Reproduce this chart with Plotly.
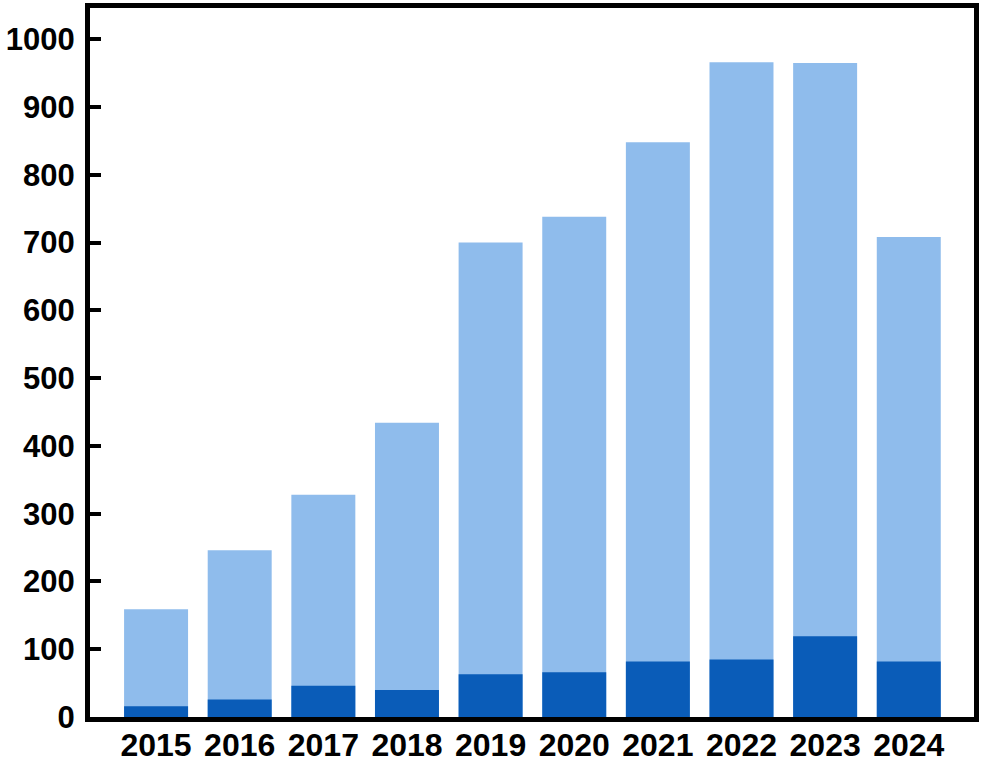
import plotly.graph_objects as go

years = ["2015", "2016", "2017", "2018", "2019", "2020", "2021", "2022", "2023", "2024"]
total = [159, 246, 328, 434, 700, 738, 848, 966, 965, 708]
subset = [16, 26, 46, 40, 63, 66, 82, 85, 119, 82]

fig = go.Figure()
fig.add_trace(go.Bar(x=years, y=total, marker_color="#8FBCEC", marker_line_width=0, width=0.765))
fig.add_trace(go.Bar(x=years, y=subset, marker_color="#0A5CB8", marker_line_width=0, width=0.765))

fig.update_layout(
    barmode="overlay",
    showlegend=False,
    width=982, height=763,
    margin=dict(l=90, r=8, t=8, b=46),
    plot_bgcolor="white", paper_bgcolor="white",
    font=dict(family="Liberation Sans, Arial", size=30, color="black"),
)
fig.update_xaxes(
    range=[-0.79, 9.78], showline=True, linecolor="black", linewidth=5, mirror=True,
    ticks="", showgrid=False, automargin=False, ticklabelstandoff=-4,
    tickfont=dict(family="Liberation Sans, Arial", size=32, weight="bold"),
)
fig.update_yaxes(
    range=[0, 1046], dtick=100, showline=True, linecolor="black", linewidth=5, mirror=True,
    ticks="inside", ticklen=11, tickwidth=4, tickcolor="black", showgrid=False, zeroline=False,
    automargin=False, ticklabelstandoff=4,
    tickfont=dict(family="Liberation Sans, Arial", size=31, weight="bold"),
)
# page body has a default 8px margin; drop it so the figure fills the window
fig.write_html(
    "out.html",
    config={"displayModeBar": False},
    post_script="document.body.style.margin='0';document.body.style.overflow='hidden';",
)
